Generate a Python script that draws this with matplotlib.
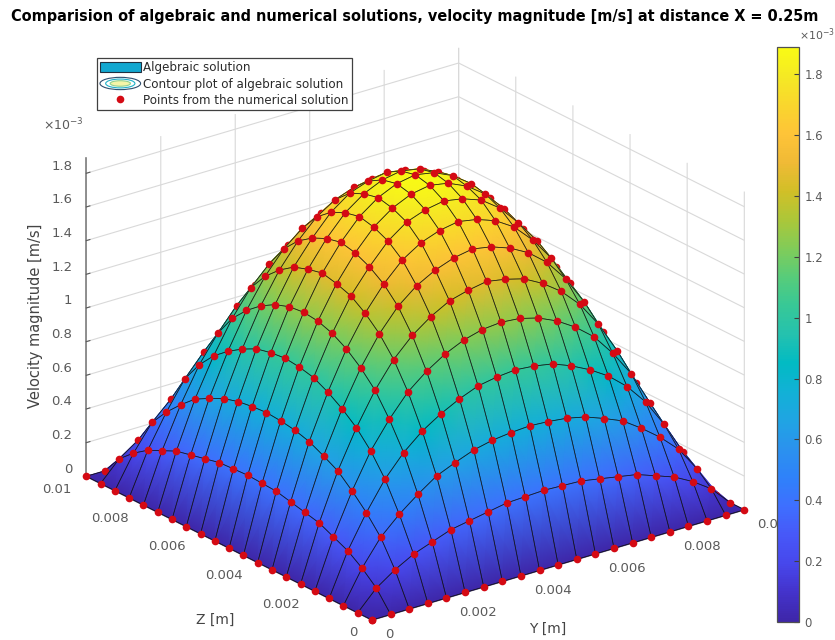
import numpy as np
import matplotlib
matplotlib.use('Agg')
import matplotlib.pyplot as plt
from matplotlib.cm import ScalarMappable
from matplotlib.colors import LinearSegmentedColormap, Normalize
from matplotlib.legend_handler import HandlerBase
from matplotlib.lines import Line2D
from matplotlib.patches import Ellipse, Patch
from mpl_toolkits.mplot3d import proj3d

# ---------- data ----------
y_nodes_mm = [0, .5, 1, 1.5, 2, 2.5, 3, 3.5, 4, 4.5, 5, 5.5, 6, 6.5, 7, 7.5, 8, 8.5, 9, 9.5, 10]
z_nodes_mm = [0, .5, 1, 1.5, 2, 2.5, 3, 3.5, 4, 4.5, 5, 5.5, 6, 6.5, 7, 7.5, 8, 8.5, 9, 9.5, 10]
# velocity magnitude in 1e-3 m/s, one row per Y node, one column per Z node
velocity_e3 = [
 [0,0,0,0,0,0,0,0,0,0,0,0,0,0,0,0,0,0,0,0,0],
 [0,.114,.19,.25,.29,.33,.35,.37,.39,.395,.40,.395,.39,.37,.35,.33,.29,.25,.19,.114,0],
 [0,.19,.34,.444,.53,.606,.653,.695,.72,.733,.74,.733,.72,.695,.653,.606,.53,.444,.34,.19,0],
 [0,.25,.444,.61,.735,.83,.90,.956,1.0,1.02,1.03,1.02,1.0,.956,.90,.83,.735,.61,.444,.25,0],
 [0,.29,.53,.735,.89,1.02,1.11,1.18,1.23,1.26,1.27,1.26,1.23,1.18,1.11,1.02,.89,.735,.53,.29,0],
 [0,.33,.606,.83,1.02,1.17,1.28,1.36,1.42,1.45,1.47,1.45,1.42,1.36,1.28,1.17,1.02,.83,.606,.33,0],
 [0,.35,.653,.90,1.11,1.28,1.41,1.50,1.56,1.60,1.62,1.60,1.56,1.50,1.41,1.28,1.11,.90,.653,.35,0],
 [0,.37,.695,.956,1.18,1.36,1.50,1.61,1.68,1.72,1.74,1.72,1.68,1.61,1.50,1.36,1.18,.956,.695,.37,0],
 [0,.39,.72,1.0,1.23,1.42,1.56,1.68,1.76,1.80,1.82,1.80,1.76,1.68,1.56,1.42,1.23,1.0,.72,.39,0],
 [0,.395,.733,1.02,1.26,1.45,1.60,1.72,1.80,1.85,1.87,1.85,1.80,1.72,1.60,1.45,1.26,1.02,.733,.395,0],
 [0,.40,.74,1.03,1.27,1.47,1.62,1.74,1.82,1.87,1.89,1.87,1.82,1.74,1.62,1.47,1.27,1.03,.74,.40,0],
 [0,.395,.733,1.02,1.26,1.45,1.60,1.72,1.80,1.85,1.87,1.85,1.80,1.72,1.60,1.45,1.26,1.02,.733,.395,0],
 [0,.39,.72,1.0,1.23,1.42,1.56,1.68,1.76,1.80,1.82,1.80,1.76,1.68,1.56,1.42,1.23,1.0,.72,.39,0],
 [0,.37,.695,.956,1.18,1.36,1.50,1.61,1.68,1.72,1.74,1.72,1.68,1.61,1.50,1.36,1.18,.956,.695,.37,0],
 [0,.35,.653,.90,1.11,1.28,1.41,1.50,1.56,1.60,1.62,1.60,1.56,1.50,1.41,1.28,1.11,.90,.653,.35,0],
 [0,.33,.606,.83,1.02,1.17,1.28,1.36,1.42,1.45,1.47,1.45,1.42,1.36,1.28,1.17,1.02,.83,.606,.33,0],
 [0,.29,.53,.735,.89,1.02,1.11,1.18,1.23,1.26,1.27,1.26,1.23,1.18,1.11,1.02,.89,.735,.53,.29,0],
 [0,.25,.444,.61,.735,.83,.90,.956,1.0,1.02,1.03,1.02,1.0,.956,.90,.83,.735,.61,.444,.25,0],
 [0,.19,.34,.444,.53,.606,.653,.695,.72,.733,.74,.733,.72,.695,.653,.606,.53,.444,.34,.19,0],
 [0,.114,.19,.25,.29,.33,.35,.37,.39,.395,.40,.395,.39,.37,.35,.33,.29,.25,.19,.114,0],
 [0,0,0,0,0,0,0,0,0,0,0,0,0,0,0,0,0,0,0,0,0],
]
horizontal_ticks = [0, .002, .004, .006, .008, .01]
horizontal_labels = ['0', '0.002', '0.004', '0.006', '0.008', '0.01']
velocity_ticks_e3 = [0, .2, .4, .6, .8, 1, 1.2, 1.4, 1.6, 1.8]
velocity_labels = ['0', '0.2', '0.4', '0.6', '0.8', '1', '1.2', '1.4', '1.6', '1.8']
velocity_limit_e3 = 1.89

title = 'Comparision of algebraic and numerical solutions, velocity magnitude [m/s] at distance X = 0.25m'
legend_labels = ['Algebraic solution', 'Contour plot of algebraic solution', 'Points from the numerical solution']

parula_colors = [
 (.2422,.1504,.6603),(.2647,.1978,.7952),(.2803,.2782,.9221),(.2795,.3447,.9717),
 (.2440,.4358,.9988),(.1834,.5074,.9798),(.1687,.5703,.9359),(.1248,.6459,.8883),
 (.0689,.6948,.8394),(.0067,.7312,.7660),(.1408,.7584,.6842),(.2161,.7843,.5923),
 (.3406,.8008,.4789),(.5044,.7993,.3480),(.6720,.7793,.2227),(.8203,.7498,.1535),
 (.9393,.7288,.2100),(.9970,.7659,.2199),(.9786,.8386,.1766),(.9597,.9135,.1423),
 (.9769,.9839,.0805)]

GREY = '#5a5a5a'
W, H = 835, 640

plt.rcParams['font.family'] = 'DejaVu Sans'
fig = plt.figure(figsize=(W / 100, H / 100), dpi=100)
parula = LinearSegmentedColormap.from_list('parula', parula_colors, N=256)
norm = Normalize(0, velocity_limit_e3 * 1e-3)

y_m = np.array(y_nodes_mm) * 1e-3
z_m = np.array(z_nodes_mm) * 1e-3
u = np.array(velocity_e3) * 1e-3
Ym, Zm = np.meshgrid(y_m, z_m, indexing='ij')

ax = fig.add_axes([0.03, 0.02, 0.86, 0.95], projection='3d', proj_type='ortho')
ax.patch.set_alpha(0)
ax.view_init(elev=22.7, azim=-127.5)
ax.set_xlim(0, .01, view_margin=0)
ax.set_ylim(0, .01, view_margin=0)
ax.set_zlim(0, velocity_limit_e3 * 1e-3, view_margin=0)


def to_pixels(xs, ys, zs):
    xs, ys, zs = np.asarray(xs, float), np.asarray(ys, float), np.asarray(zs, float)
    px, py, _ = proj3d.proj_transform(xs.ravel(), ys.ravel(), zs.ravel(), ax.get_proj())
    out = ax.transData.transform(np.column_stack([px, py]))
    return out[:, 0].reshape(xs.shape), out[:, 1].reshape(xs.shape)


# scale and move the box so its floor corners land where the reference has them
zoom = 1.3
ax.set_box_aspect((1, 1, .735), zoom=zoom)
fig.canvas.draw()
cx, _ = to_pixels([0., .01], [.01, 0.], [0., 0.])
zoom *= (743 - 85) / (cx[1] - cx[0])
ax.set_box_aspect((1, 1, .735), zoom=zoom)
fig.canvas.draw()
cx, cy = to_pixels([0.], [0.], [0.])
pos = ax.get_position()
ax.set_position([pos.x0 + (372 - cx[0]) / W, pos.y0 + (H - 620 - cy[0]) / H, pos.width, pos.height])
fig.canvas.draw()

# walls, grid, ticks
for axis in (ax.xaxis, ax.yaxis, ax.zaxis):
    axis.set_pane_color((1, 1, 1, 0))
    axis.pane.set_edgecolor('none')
    axis._axinfo['grid'].update(color='#d9d9d9', linewidth=.8)
    axis._axinfo['tick'].update(inward_factor=0, outward_factor=.12, linewidth={True: .8, False: .8}, color=GREY)
    axis.line.set_color('#7f7f7f')
    axis.line.set_linewidth(1.2)

velocity_ticks = np.array(velocity_ticks_e3) * 1e-3
ax.set_xticks(horizontal_ticks, [''] * len(horizontal_ticks))
ax.set_yticks(horizontal_ticks, [''] * len(horizontal_ticks))
ax.set_zticks(velocity_ticks, [''] * len(velocity_ticks))
ax.tick_params(axis='both', color=GREY)

# overlay in picture pixels, fed through the 3D axes' projection
ov = fig.add_axes([0, 0, 1, 1], zorder=2)
ov.set_xlim(0, W)
ov.set_ylim(0, H)
ov.axis('off')
ov.patch.set_alpha(0)


def tick_text(xs, ys, zs, labels, dx, dy, ha):
    px, py = to_pixels(xs, ys, zs)
    for x0, y0, s in zip(px, py, labels):
        ov.text(x0 + dx, y0 + dy, s, ha=ha, va='center', fontsize=9.5, color=GREY, zorder=1)


zeros = np.zeros(len(horizontal_ticks))
tick_text(horizontal_ticks, zeros, zeros, horizontal_labels, 13, -15, 'left')     # Y [m]
tick_text(zeros, horizontal_ticks, zeros, horizontal_labels, -15, -13, 'right')   # Z [m]
tick_text(np.zeros(len(velocity_ticks)), np.full(len(velocity_ticks), .01), velocity_ticks,
          velocity_labels, -14, 7, 'right')

# interpolated surface, mesh and points, painted from the far corner forwards
PX, PY = to_pixels(Ym, Zm, u)
marker_style = dict(marker='o', ms=5.5, color='#d40a14', mew=0, ls='none')
order = 10
n = u.shape[0] - 1
for i in range(n - 1, -1, -1):
    for j in range(n - 1, -1, -1):
        xq = PX[i:i + 2, j:j + 2]
        yq = PY[i:i + 2, j:j + 2]
        ov.pcolormesh(xq, yq, u[i:i + 2, j:j + 2], shading='gouraud', cmap=parula, norm=norm, zorder=order)
        ov.plot(xq[[0, 0, 1, 1, 0], [0, 1, 1, 0, 0]], yq[[0, 0, 1, 1, 0], [0, 1, 1, 0, 0]],
                color='#101010', lw=.55, zorder=order + 1, solid_joinstyle='round')
        ov.plot([PX[i + 1, j + 1]], [PY[i + 1, j + 1]], zorder=order + 2, **marker_style)
        order += 3
for i in range(n + 1):
    ov.plot([PX[i, 0]], [PY[i, 0]], zorder=order, **marker_style)
    ov.plot([PX[0, i]], [PY[0, i]], zorder=order, **marker_style)
ov.set_xlim(0, W)
ov.set_ylim(0, H)


# legend
class ContourHandle(HandlerBase):
    def create_artists(self, legend, orig_handle, xd, yd, width, height, fontsize, trans):
        cx0, cy0 = width / 2 - xd, height / 2 - yd
        specs = [(1.0, 1.0, '#2f4f6f', 'white'), (.72, .72, '#1fb0c8', 'white'),
                 (.5, .45, '#8fd08f', '#f5f5a8')]
        return [Ellipse((cx0, cy0), width * a, height * 1.15 * b, edgecolor=e, facecolor=f, lw=.8, transform=trans)
                for a, b, e, f in specs]


handles = [Patch(facecolor='#12a7d0', edgecolor='#203040', lw=.8),
           Line2D([], [], color='k'),
           Line2D([], [], marker='o', ms=5.5, color='#d40a14', ls='none', mew=0)]
leg = ov.legend(handles, legend_labels, handler_map={handles[1]: ContourHandle()},
                loc='upper left', bbox_to_anchor=(97 / W, 1 - 58 / H), bbox_transform=fig.transFigure,
                borderaxespad=0, fontsize=8.6, labelspacing=.3, borderpad=.25, handlelength=3.4,
                handletextpad=.22, handleheight=1.0, fancybox=False, framealpha=1, edgecolor='#404040',
                labelcolor='#2a2a2a')
leg.get_frame().set_linewidth(.9)
leg.set_zorder(5000)

# colour bar
cax = fig.add_axes([777 / W, 1 - 622 / H, 22 / W, 575 / H], zorder=3)
cb = fig.colorbar(ScalarMappable(norm=norm, cmap=parula), cax=cax)
cb.set_ticks(velocity_ticks, labels=velocity_labels)
cb.ax.tick_params(direction='in', length=3.5, width=.8, color='#404040', labelsize=8.4, labelcolor=GREY, pad=4)
cb.outline.set_edgecolor('#505050')
cb.outline.set_linewidth(.9)

# text
fig.text(415 / W, 1 - 17 / H, title, ha='center', va='center', fontsize=10.45, fontweight='bold', color='black')
fig.text(36 / W, 1 - 316 / H, 'Velocity magnitude [m/s]', rotation=90, ha='center', va='center', fontsize=10.5, color='#444444')
fig.text(215 / W, 1 - 620 / H, 'Z [m]', ha='center', va='center', fontsize=10, color='#444444')
fig.text(548 / W, 1 - 629 / H, 'Y [m]', ha='center', va='center', fontsize=10, color='#444444')
fig.text(63 / W, 1 - 125 / H, r'$\times$10$^{-3}$', ha='center', va='center', fontsize=9, color=GREY)
fig.text(799 / W, 1 - 35 / H, r'$\times$10$^{-3}$', ha='left', va='center', fontsize=7.8, color=GREY)

fig.savefig('out.png', dpi=100)
